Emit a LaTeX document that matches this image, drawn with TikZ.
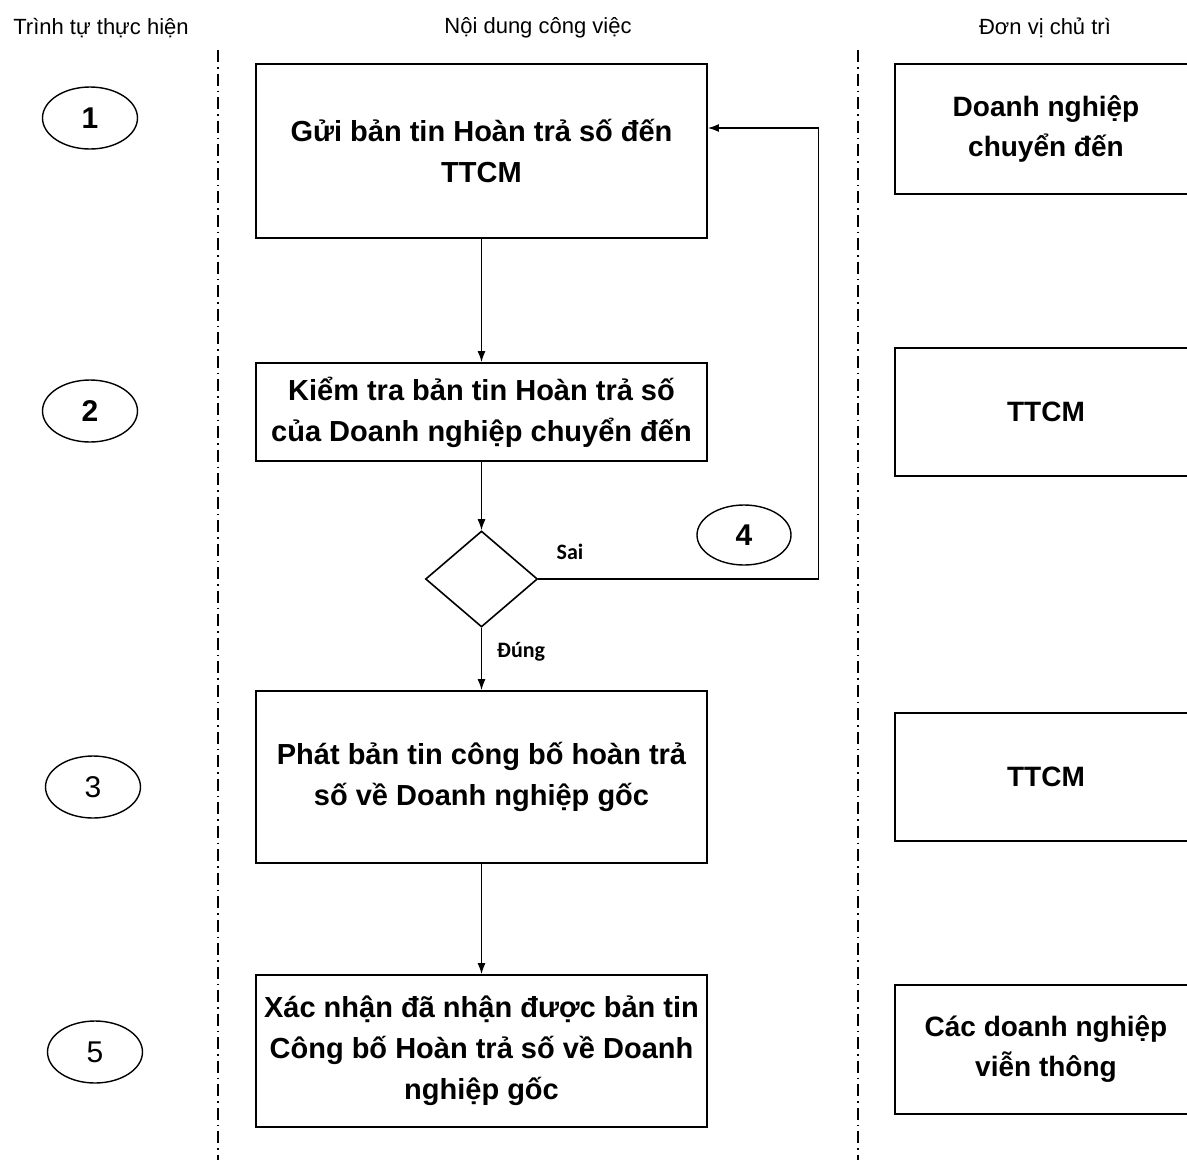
\documentclass[tikz,border=0pt]{standalone}
\usepackage{fontspec}
\setmainfont{Liberation Sans}
\newfontfamily\calib{Carlito}
\usetikzlibrary{shapes.geometric,arrows.meta}
\begin{document}
\begin{tikzpicture}[x=1pt,y=-1pt,
  box/.style={draw, line width=1.8pt, inner sep=0pt, align=center, minimum width=451pt, font=\bfseries\fontsize{29}{41}\selectfont},
  rbox/.style={draw, line width=1.8pt, inner sep=0pt, align=center, minimum width=302pt, font=\bfseries\fontsize{28}{40}\selectfont},
  num/.style={draw, ellipse, line width=1.4pt, minimum width=95pt, minimum height=62pt, inner sep=0pt, font=\fontsize{30}{32}\selectfont},
  head/.style={font=\fontsize{22}{26}\selectfont},
  lbl/.style={font=\calib\bfseries\fontsize{22}{24}\selectfont},
  arr/.style={line width=1.3pt, -{Latex[length=11pt,width=8pt]}},
  sep/.style={line width=1.6pt, dash pattern=on 12pt off 5pt on 1.5pt off 5pt}
]
\useasboundingbox (0,0) rectangle (1187,1160);
\clip (0,0) rectangle (1187,1160);

% headers
\node[head] (h1) at (101,28) {Trình tự thực hiện};
\node[head] (h2) at (538,28) {Nội dung công việc};
\node[head] (h3) at (1045,28) {Đơn vị chủ trì};

% separators
\draw[sep] (218,50) -- (218,1165);
\draw[sep] (858,50) -- (858,1165);

% step numbers
\node[num, font=\bfseries\fontsize{30}{32}\selectfont] (n1) at (90,118) {1};
\node[num, font=\bfseries\fontsize{30}{32}\selectfont] (n2) at (90,411) {2};
\node[num] (n3) at (93,787) {3};
\node[num] (n5) at (95,1052) {5};
\node[num, minimum width=94pt, minimum height=60pt, font=\bfseries\fontsize{30}{32}\selectfont] (n4) at (744,535) {4};

% main boxes
\node[box, minimum height=174pt] (b1) at (481.5,151) {Gửi bản tin Hoàn trả số đến\\TTCM};
\node[box, minimum height=98pt] (b2) at (481.5,412) {Kiểm tra bản tin Hoàn trả số\\của Doanh nghiệp chuyển đến};
\node[draw, diamond, line width=1.6pt, minimum width=112pt, minimum height=96pt, inner sep=0pt] (dia) at (481.5,579) {};
\node[box, minimum height=172pt] (b3) at (481.5,777) {Phát bản tin công bố hoàn trả\\số về Doanh nghiệp gốc};
\node[box, minimum height=152pt] (b4) at (481.5,1051) {Xác nhận đã nhận được bản tin\\Công bố Hoàn trả số về Doanh\\nghiệp gốc};

% right boxes
\node[rbox, minimum height=130pt] (r1) at (1046,129) {Doanh nghiệp\\chuyển đến};
\node[rbox, minimum height=128pt] (r2) at (1046,412) {TTCM};
\node[rbox, minimum height=128pt] (r3) at (1046,777) {TTCM};
\node[rbox, minimum height=129pt] (r4) at (1046,1049.5) {Các doanh nghiệp\\viễn thông};

% connectors
\draw[arr] (b1.south) -- (b2.north);
\draw[arr] (b2.south) -- (dia.north);
\draw[arr] (dia.south) -- (b3.north);
\draw[arr] (b3.south) -- (b4.north);
\draw[arr] (dia.east) -- ++(280,0) |- ([yshift=23pt]b1.east);

% labels
\node[lbl] (sai) at (570,552) {Sai};
\node[lbl] (dung) at (521,652) {Đúng};
\end{tikzpicture}
\end{document}
